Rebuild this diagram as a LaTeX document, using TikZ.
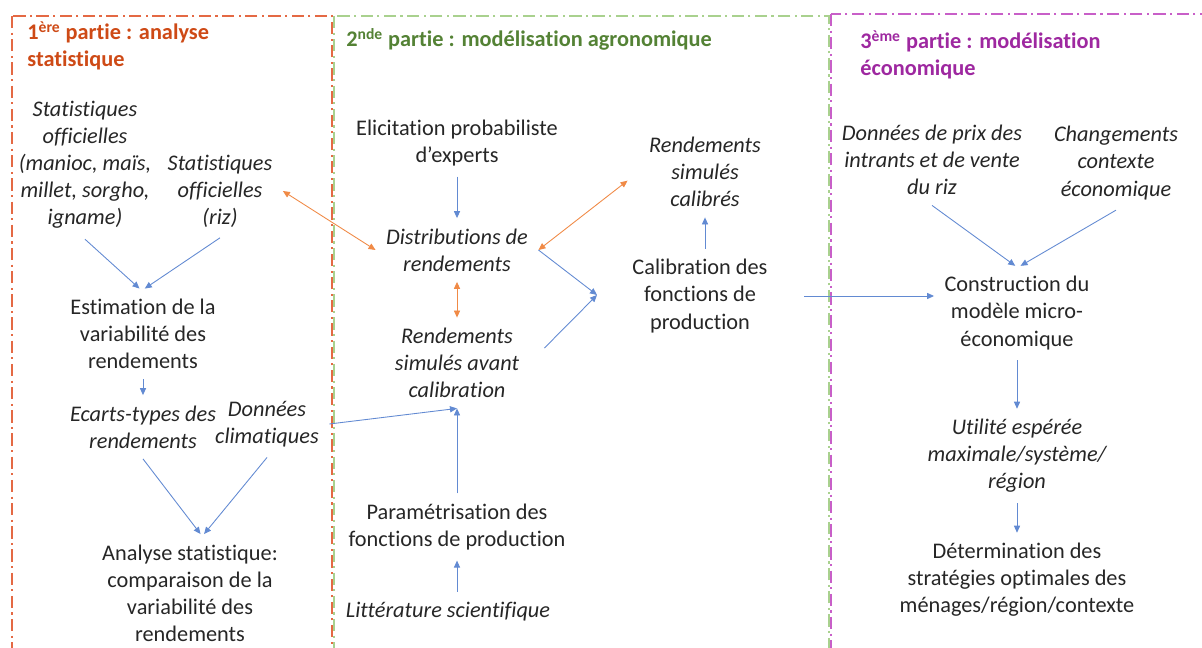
\documentclass[tikz,border=0pt]{standalone}
\usepackage{fontspec}
\setmainfont[RawFeature={-liga;-calt;-clig;-dlig}]{Carlito}
\usetikzlibrary{arrows.meta}

\definecolor{cadrerouge}{RGB}{228,105,68}
\definecolor{cadrevert}{RGB}{169,209,142}
\definecolor{cadreviolet}{RGB}{200,95,200}
\definecolor{titrerouge}{RGB}{206,74,22}
\definecolor{titrevert}{RGB}{84,130,53}
\definecolor{titreviolet}{RGB}{158,40,160}
\definecolor{fleche}{RGB}{98,138,210}
\definecolor{lien}{RGB}{240,138,70}
\definecolor{texte}{RGB}{38,38,38}

\begin{document}
\begin{tikzpicture}[x=0.02cm,y=-0.02cm,
    txt/.style={align=center, text=texte, inner sep=1pt, outer sep=5pt,
      font=\fontsize{12.7}{15.4}\selectfont},
    txtit/.style={txt, font=\fontsize{12.7}{15.4}\selectfont\itshape},
    titre/.style={anchor=north west, align=left, inner sep=0pt,
      font=\fontsize{12.7}{15.4}\selectfont\bfseries},
    cadre/.style={line width=0.9pt, dash pattern=on 7pt off 2.5pt on 1.2pt off 2.5pt},
    flux/.style={draw=fleche, line width=0.5pt, -{Triangle[length=4pt,width=3.5pt]}},
    lien/.style={draw=lien, line width=0.5pt, {Triangle[length=4pt,width=3.5pt]}-{Triangle[length=4pt,width=3.5pt]}}]

  \path[use as bounding box] (0,0) rectangle (1202,648);
  \clip (0,0) rectangle (1202,648);

  % cadres des trois parties
  \draw[cadre, draw=cadrevert] (334,16) rectangle (829,700);
  \draw[cadre, draw=cadrerouge] (12,16) rectangle (332,700);
  \draw[cadre, draw=cadreviolet] (831,14) rectangle (1240,700);

  \node[titre, text=titrerouge] (titre1) at (27,21) {1\textsuperscript{ère} partie : analyse\\statistique};
  \node[titre, text=titrevert] (titre2) at (346,28) {2\textsuperscript{nde} partie : modélisation agronomique};
  \node[titre, text=titreviolet] (titre3) at (860,30) {3\textsuperscript{ème} partie : modélisation\\économique};

  % 1ere partie
  \node[txtit] (statA) at (85,165) {Statistiques\\officielles\\(manioc, maïs,\\millet, sorgho,\\igname)};
  \node[txtit] (statB) at (220,191) {Statistiques\\officielles\\(riz)};
  \node[txt] (estim) at (143,334) {Estimation de la\\variabilité des\\rendements};
  \node[txtit] (ecart) at (143,427) {Ecarts-types des\\rendements};
  \node[txtit] (clim) at (267,424) {Données\\climatiques};
  \node[txt] (analyse) at (190,593) {Analyse statistique:\\comparaison de la\\variabilité des\\rendements};

  % 2nde partie
  \node[txt] (elic) at (457,143) {Elicitation probabiliste\\d’experts};
  \node[txtit] (distrib) at (457,250) {Distributions de\\rendements};
  \node[txtit] (avant) at (457,363) {Rendements\\simulés avant\\calibration};
  \node[txt] (param) at (457,527) {Paramétrisation des\\fonctions de production};
  \node[txtit] (litt) at (448,612) {Littérature scientifique};
  \node[txtit] (calibres) at (705,172) {Rendements\\simulés\\calibrés};
  \node[txt] (calib) at (700,296) {Calibration des\\fonctions de\\production};
  \coordinate (jonction) at (597,295);

  % 3eme partie
  \node[txtit] (prix) at (932,160) {Données de prix des\\intrants et de vente\\du riz};
  \node[txtit] (contexte) at (1116,163) {Changements\\contexte\\économique};
  \node[txt] (modele) at (1017,313) {Construction du\\modèle micro-\\économique};
  \node[txtit] (utilite) at (1017,456) {Utilité espérée\\maximale/système/\\région};
  \node[txt] (strat) at (1017,580) {Détermination des\\stratégies optimales des\\ménages/région/contexte};

  % fleches
  \draw[flux] (statA.south) -- ([xshift=-2pt]estim.north);
  \draw[flux] (statB.south) -- ([xshift=1pt]estim.north);
  \draw[flux] (estim.south) -- (ecart.north);
  \draw[flux] (ecart.south) -- ([xshift=6pt]analyse.north);
  \draw[flux] (clim.south) -- ([xshift=8pt]analyse.north);
  \draw[flux] (clim.east) -- (avant.south);
  \draw[flux] (param.north) -- (avant.south);
  \draw[flux] (litt.north -| param.south) -- (param.south);
  \draw[flux] (elic.south) -- (distrib.north);
  \draw[flux] (distrib.east) -- (jonction);
  \draw[flux, shorten <=12pt] (avant.east) -- (jonction);
  \draw[flux] (calib.north -| calibres.south) -- (calibres.south);
  \draw[flux, shorten <=15pt] (calib.east) -- (calib.east -| modele.west);
  \draw[flux] (prix.south) -- ([xshift=-1pt]modele.north);
  \draw[flux] (contexte.south) -- ([xshift=2pt]modele.north);
  \draw[flux] (modele.south) -- (utilite.north);
  \draw[flux] (utilite.south) -- (strat.north);

  \draw[lien] (statB.east) -- (distrib.west);
  \draw[lien] (distrib.south) -- (avant.north);
  \draw[lien, shorten >=8pt] (distrib.east) -- (calibres.west);
\end{tikzpicture}
\end{document}
